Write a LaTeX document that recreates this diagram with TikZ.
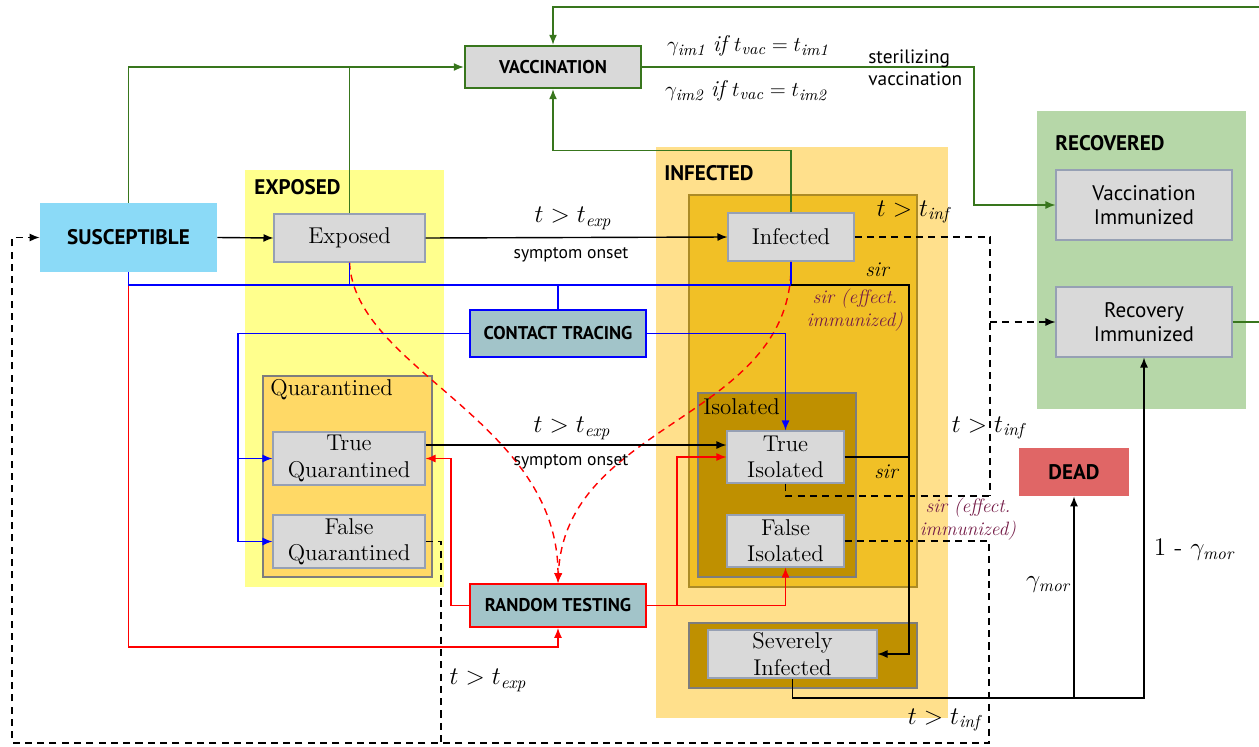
\documentclass[tikz,border=0pt]{standalone}
\usepackage{fontspec}
\setsansfont{PT Sans}
\usepackage{tikz}
\usetikzlibrary{arrows.meta, positioning, calc}
\definecolor{susblue}{RGB}{139,218,247}
\definecolor{expyellow}{RGB}{255,255,141}
\definecolor{quarorange}{RGB}{255,217,102}
\definecolor{inflight}{RGB}{255,224,140}
\definecolor{infgold}{RGB}{241,192,38}
\definecolor{isodark}{RGB}{191,144,0}
\definecolor{stategray}{RGB}{217,217,217}
\definecolor{stateedge}{RGB}{150,160,180}
\definecolor{boxedge}{RGB}{125,125,125}
\definecolor{recgreen}{RGB}{182,215,168}
\definecolor{deadred}{RGB}{224,102,102}
\definecolor{measureteal}{RGB}{162,196,201}
\definecolor{vacgreen}{RGB}{56,118,29}
\definecolor{sirpurple}{RGB}{116,27,71}

\begin{document}
\begin{tikzpicture}[x=0.02cm, y=-0.02cm,
    region/.style={rectangle, inner sep=0pt},
    header/.style={inner sep=0pt, anchor=west, font=\sffamily\bfseries\fontsize{12}{14}\selectfont},
    sublabel/.style={inner sep=0pt, anchor=west, font=\fontsize{13}{15}\selectfont},
    state/.style={rectangle, fill=stategray, draw=stateedge, line width=0.6pt, inner sep=0pt, align=center, font=\fontsize{13}{15}\selectfont},
    sansstate/.style={state, font=\sffamily\fontsize{12}{13.6}\selectfont},
    measure/.style={rectangle, fill=measureteal, line width=1pt, inner sep=0pt, minimum width=3.52cm, font=\sffamily\bfseries\fontsize{10.5}{12}\selectfont},
    cond/.style={inner sep=0pt, font=\fontsize{14}{16}\selectfont},
    note/.style={inner sep=0pt, font=\sffamily\fontsize{10}{12}\selectfont},
    sirnote/.style={inner sep=0pt, align=center, text=sirpurple, font=\itshape\fontsize{11}{13}\selectfont},
    flow/.style={-{Latex[length=2mm, width=1.6mm]}, line width=0.8pt},
    sirline/.style={line width=1.1pt},
    dashline/.style={line width=0.8pt, dash pattern=on 4pt off 3pt},
    vacline/.style={vacgreen, line width=0.9pt},
    ctline/.style={blue, line width=0.9pt},
    testline/.style={red, line width=0.9pt}
]
\useasboundingbox (0,0) rectangle (1259,747);

% compartments
\node[region, fill=expyellow, minimum width=3.98cm, minimum height=8.34cm] (expreg) at (344.5,378.5) {};
\node[region, fill=inflight, minimum width=5.84cm, minimum height=11.42cm] (infreg) at (802,432.5) {};
\node[region, fill=recgreen, minimum width=4.18cm, minimum height=5.96cm] (recreg) at (1141.5,260) {};

\node[header] (exphead) at (254,187.5) {EXPOSED};
\node[header] (infhead) at (664,173.5) {INFECTED};
\node[header] (rechead) at (1055,143.5) {RECOVERED};

% sub boxes
\node[region, fill=quarorange, draw=boxedge, line width=0.8pt, minimum width=3.38cm, minimum height=4.02cm] (quarbox) at (347.5,476.5) {};
\node[region, fill=infgold, draw=isodark!70!gray, line width=0.8pt, minimum width=4.56cm, minimum height=7.84cm] (infbox) at (803,391) {};
\node[region, fill=isodark, draw=boxedge, line width=0.8pt, minimum width=3.16cm, minimum height=3.68cm] (isobox) at (777,485) {};
\node[region, fill=isodark, draw=boxedge, line width=0.8pt, minimum width=4.56cm, minimum height=1.30cm] (sevbox) at (803,655.5) {};

\node[sublabel] (quarhead) at (270,390) {Quarantined};
\node[sublabel] (isohead) at (703,407) {Isolated};

% states
\node[rectangle, fill=susblue, inner sep=0pt, minimum width=3.54cm, minimum height=1.38cm, font=\sffamily\bfseries\fontsize{12}{14}\selectfont] (sus) at (128.5,237.5) {SUSCEPTIBLE};
\node[state, minimum width=3.02cm, minimum height=0.96cm] (exp) at (349.5,238) {Exposed};
\node[state, minimum width=3.04cm, minimum height=1.06cm] (trueq) at (349,458.5) {True\\Quarantined};
\node[state, minimum width=3.04cm, minimum height=1.06cm] (falseq) at (349,541.5) {False\\Quarantined};
\node[state, minimum width=2.52cm, minimum height=0.96cm] (inf) at (791,237) {Infected};
\node[state, minimum width=2.34cm, minimum height=1.04cm] (trueiso) at (785.5,457) {True\\Isolated};
\node[state, minimum width=2.34cm, minimum height=1.04cm] (falseiso) at (785.5,541) {False\\Isolated};
\node[state, minimum width=3.38cm, minimum height=0.96cm] (sev) at (792.5,654) {Severely\\Infected};
\node[sansstate, minimum width=3.52cm, minimum height=1.40cm] (vacimm) at (1144,205) {Vaccination\\Immunized};
\node[sansstate, minimum width=3.52cm, minimum height=1.40cm] (recimm) at (1144,322) {Recovery\\Immunized};
\node[rectangle, fill=deadred, inner sep=0pt, minimum width=2.2cm, minimum height=0.96cm, font=\sffamily\bfseries\fontsize{12}{14}\selectfont] (dead) at (1074,472) {DEAD};

% measures
\node[measure, fill=stategray, draw=vacgreen, line width=1.4pt, minimum height=0.84cm] (vac) at (553,67) {VACCINATION};
\node[measure, draw=blue, minimum height=0.94cm] (ct) at (558,333.5) {CONTACT TRACING};
\node[measure, draw=red, minimum height=0.86cm] (rt) at (558,605.5) {RANDOM TESTING};

% helper coordinates
\coordinate (ctbus) at (0,285);
\coordinate (testbus) at (0,647);
\coordinate (deathbus) at (0,698);
\coordinate (sirx) at (909,0);
\coordinate (dashx) at (990,0);
\coordinate (tijoin) at (990,496);
\coordinate (bottomright) at (989,743);
\coordinate (bottomleft) at (12,743);
\coordinate (qjoin) at (441,743);
\coordinate (sterx) at (974,0);
\coordinate (loopright) at (1275,7);

% vaccination (green)
\draw[vacline, flow] (sus.north) |- (vac.west);
\draw[vacline] (exp.north) -- (exp.north |- vac.west);
\draw[vacline, flow] (inf.north) -- ++(0,-62) -| (vac.south);
\draw[vacline, flow] (vac.east) -| (sterx |- vacimm.west) -- (vacimm.west);
\draw[vacline, flow] (recimm.east) -| (loopright) -| (vac.north);

% random testing (red)
\draw[testline, flow] (sus.south) |- (testbus -| rt.south) -- (rt.south);
\draw[testline, flow] (rt.west) -- ++(-18,0) |- (trueq.east);
\draw[testline, flow] (rt.east) -- ++(30,0) |- (trueiso.west);
\draw[testline, flow] (rt.east) -| (falseiso.south);
\draw[testline, flow, dash pattern=on 4pt off 3pt] (exp.south) .. controls (355,370) and (558,420) .. (rt.north);
\draw[testline, flow, dash pattern=on 4pt off 3pt] (inf.south) .. controls (795,420) and (565,420) .. (rt.north);

% contact tracing (blue)
\draw[ctline] (sus.south) |- (ctbus -| inf.south) -- (inf.south);
\draw[ctline] (exp.south) -- (exp.south |- ctbus);
\draw[ctline] (ct.north) -- (ct.north |- ctbus);
\draw[ctline, flow] (ct.west) -- ++(-231,0) |- (trueq.west);
\draw[ctline, flow] (ct.west) -- ++(-231,0) |- (falseq.west);
\draw[ctline, flow] (ct.east) -| (trueiso.north);

% disease progression
\draw[flow] (sus.east) -- (exp.west);
\draw[flow] (exp.east) -- (inf.west);
\draw[flow] ([yshift=0.27cm]trueq.east) -- ([yshift=0.27cm]trueq.east -| trueiso.west);
\draw[sirline, flow] (inf.south |- ctbus) -| (sirx |- sev.east) -- (sev.east);
\draw[sirline] (trueiso.east) -- (trueiso.east -| sirx);
\draw[flow] (sev.south) |- (deathbus -| recimm.south) -- (recimm.south);
\draw[flow] (deathbus -| dead.south) -- (dead.south);

% recovery / back to susceptible (dashed)
\draw[dashline] (inf.east) -| (tijoin);
\draw[dashline] (trueiso.south) |- (tijoin);
\draw[dashline, flow] (dashx |- recimm.west) -- (recimm.west);
\draw[dashline, flow] (falseiso.east) -| (bottomright) -- (bottomleft) |- (sus.west);
\draw[dashline] (falseq.east) -| (qjoin);

% labels
\node[cond, font=\fontsize{13}{15}\selectfont] (gim1) at (748,46) {$\gamma_{\mathit{im1}}\ \mathit{if}\ t_{\mathit{vac}} = t_{\mathit{im1}}$};
\node[cond, font=\fontsize{13}{15}\selectfont] (gim2) at (746,91) {$\gamma_{\mathit{im2}}\ \mathit{if}\ t_{\mathit{vac}} = t_{\mathit{im2}}$};
\node[note, anchor=west, align=left, font=\sffamily\fontsize{11}{12.5}\selectfont] (steril) at (868,68) {sterilizing\\vaccination};
\node[cond] (texp1) at (573,218) {$t > t_{\mathit{exp}}$};
\node[note] (onset1) at (571,255) {symptom onset};
\node[cond] (texp2) at (572,428) {$t > t_{\mathit{exp}}$};
\node[note] (onset2) at (571,462) {symptom onset};
\node[cond] (texp3) at (488,680) {$t > t_{\mathit{exp}}$};
\node[cond] (tinf1) at (913,212) {$t > t_{\mathit{inf}}$};
\node[cond] (tinf2) at (988,428) {$t > t_{\mathit{inf}}$};
\node[cond] (tinf3) at (944,720) {$t > t_{\mathit{inf}}$};
\node[inner sep=0pt, font=\itshape\fontsize{12}{14}\selectfont] (sir1) at (877,270) {sir};
\node[inner sep=0pt, font=\itshape\fontsize{12}{14}\selectfont] (sir2) at (886,472) {sir};
\node[sirnote] (sireff1) at (855,310) {sir (effect.\\immunized)};
\node[sirnote] (sireff2) at (968,519) {sir (effect.\\immunized)};
\node[cond] (gmor) at (1048,585) {$\gamma_{\mathit{mor}}$};
\node[cond] (gsurv) at (1194,550) {$1$ - $\gamma_{\mathit{mor}}$};

\end{tikzpicture}
\end{document}
